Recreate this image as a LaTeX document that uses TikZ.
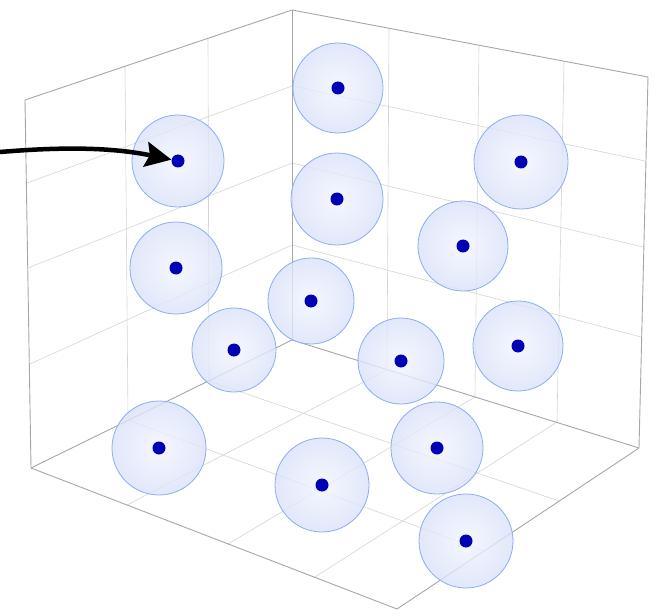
\documentclass[tikz,border=0pt]{standalone}
\usepackage{xcolor}
\usepackage{tikz}
\usetikzlibrary{arrows.meta}
\definecolor{azulborda}{HTML}{8CACF5}
\definecolor{azulcentro}{HTML}{F2F5FE}
\definecolor{azulfundo}{HTML}{DAE2F9}
\definecolor{azulponto}{HTML}{0000B4}
\tikzset{
  aresta/.style={draw=black!35, line width=0.9pt},
  grade/.style={draw=black!17, line width=0.6pt},
  esfera/.style={circle, draw=azulborda, line width=0.8pt, inner color=azulcentro, outer color=azulfundo, fill opacity=0.8, inner sep=0pt, minimum size=2*#1},
  esfera/.default=45,
  ponto/.style={circle, fill=azulponto, inner sep=0pt, minimum size=13pt},
  seta/.style={-{Stealth[length=26pt, width=25pt, inset=4pt]}, line width=4.5pt},
}

\begin{document}
\begin{tikzpicture}[x=1pt, y=-1pt]
  \useasboundingbox (0,0) rectangle (670,615);

  % grade das paredes e do chao
  \draw[grade] (125,67) -- (128,420);
  \draw[grade] (208,39) -- (209,381);
  \draw[grade] (27,183) -- (292,86);
  \draw[grade] (28,268) -- (292,163);
  \draw[grade] (30,364) -- (292,245);
  \draw[grade] (389,29) -- (387,370);
  \draw[grade] (479,46) -- (475,397);
  \draw[grade] (564,62) -- (557,422);
  \draw[grade] (292,86) -- (645,161);
  \draw[grade] (292,163) -- (643,247);
  \draw[grade] (292,245) -- (641,337);
  \draw[grade] (127,505) -- (387,370);
  \draw[grade] (228,544) -- (475,397);
  \draw[grade] (315,577) -- (557,422);
  \draw[grade] (128,420) -- (484,551);
  \draw[grade] (209,381) -- (559,501);

  % arestas da caixa
  \draw[aresta] (31,468) -- (25,100) -- (292,10) -- (648,77) -- (639,448) -- (397,609) -- cycle;
  \draw[aresta] (292,10) -- (292,340);
  \draw[aresta] (31,468) -- (292,340) -- (639,448);

  % esferas
  \node[esfera] (e1) at (338,88) {};
  \node[esfera=46] (e2) at (178,161) {};
  \node[esfera=47] (e3) at (521,162) {};
  \node[esfera=46] (e4) at (337,199) {};
  \node[esfera=46] (e5) at (176,268) {};
  \node[esfera] (e6) at (463,246) {};
  \node[esfera=43] (e7) at (311,301) {};
  \node[esfera=42] (e8) at (234,350) {};
  \node[esfera=43] (e9) at (401,361) {};
  \node[esfera] (e10) at (518,346) {};
  \node[esfera=47] (e11) at (159,448) {};
  \node[esfera=47] (e12) at (322,485) {};
  \node[esfera=46] (e13) at (437,448) {};
  \node[esfera=47] (e14) at (466,541) {};

  \node[ponto] (p1) at (e1) {};
  \node[ponto] (p2) at (e2) {};
  \node[ponto] (p3) at (e3) {};
  \node[ponto] (p4) at (e4) {};
  \node[ponto] (p5) at (e5) {};
  \node[ponto] (p6) at (e6) {};
  \node[ponto] (p7) at (e7) {};
  \node[ponto] (p8) at (e8) {};
  \node[ponto] (p9) at (e9) {};
  \node[ponto] (p10) at (e10) {};
  \node[ponto] (p11) at (e11) {};
  \node[ponto] (p12) at (e12) {};
  \node[ponto] (p13) at (e13) {};
  \node[ponto] (p14) at (e14) {};

  \coordinate (origem) at (0,152);
  \draw[seta] (origem) .. controls (60,147) and (110,147) .. (p2);
\end{tikzpicture}
\end{document}
